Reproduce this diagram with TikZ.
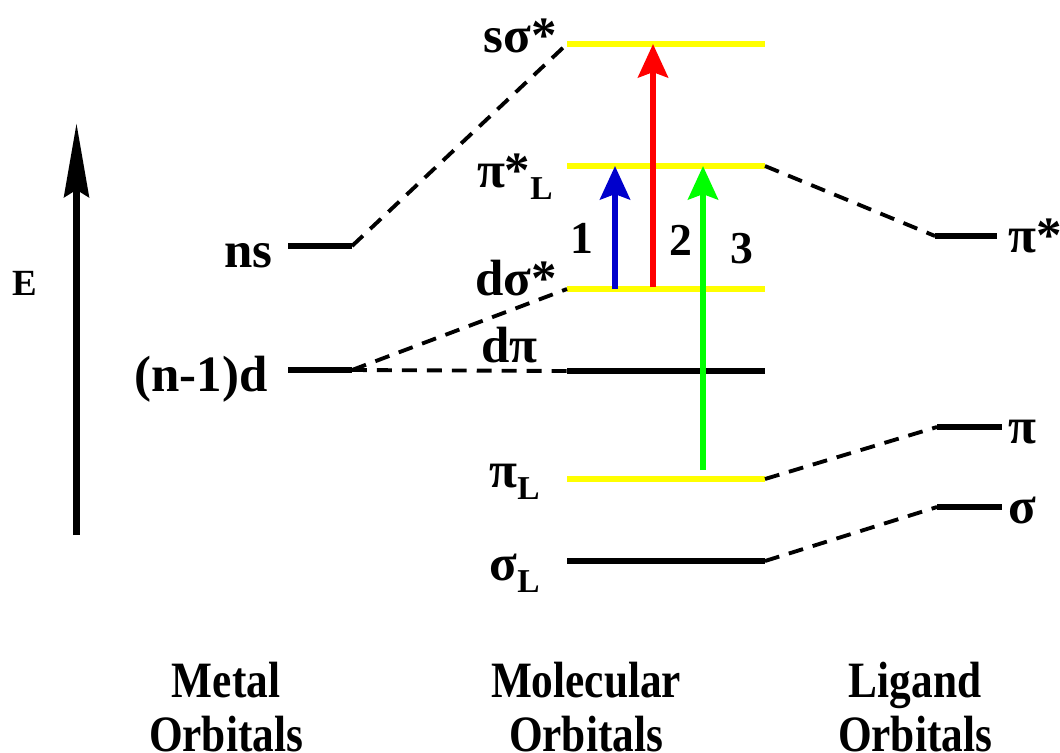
\documentclass[tikz,border=0pt]{standalone}
\usepackage{fontspec}
\setmainfont{Liberation Serif}
\newfontfamily\narrowfont[FakeStretch=0.85]{Liberation Serif}
\usetikzlibrary{arrows.meta}
\definecolor{moyellow}{RGB}{255,255,0}
\definecolor{moblue}{RGB}{0,0,204}
\definecolor{mored}{RGB}{255,0,0}
\definecolor{mogreen}{RGB}{0,255,0}
\newcommand{\lsub}[1]{\raisebox{-7pt}{\fontsize{19}{19}\selectfont #1}}
\tikzset{
  level/.style={line width=3.4pt},
  hilevel/.style={line width=3.4pt, moyellow},
  corr/.style={line width=2.2pt, dash pattern=on 8.5pt off 5.7pt},
  lbl/.style={font=\fontsize{29}{31}\selectfont\bfseries, inner sep=0pt},
  num/.style={font=\fontsize{26}{28}\selectfont\bfseries, inner sep=0pt, anchor=base},
  col/.style={font=\narrowfont\bfseries\fontsize{29}{30.6}\selectfont, align=center, inner sep=0pt, anchor=base},
  trans/.style={line width=3.4pt, -{Stealth[length=19pt, width=17pt, inset=3pt]}},
}
\begin{document}
\begin{tikzpicture}[x=0.02cm, y=-0.02cm]
	\useasboundingbox (0,0) rectangle (1060,752);
	% energy axis
	\coordinate (e-bot) at (76.5,535);
	\coordinate (e-top) at (76.5,123);
	\draw[line width=4pt, -{Stealth[length=42pt, width=14pt, inset=4pt]}] (e-bot) -- (e-top);
	\node[inner sep=0pt, anchor=base, font=\fontsize{21}{22}\selectfont\bfseries] (e) at (25,295) {E};
	% metal orbitals
	\coordinate (ns-a) at (288,246);   \coordinate (ns-b) at (352,246);
	\coordinate (d-a) at (288,370);    \coordinate (d-b) at (352,370);
	% molecular orbitals
	\coordinate (ssig-a) at (567,44);  \coordinate (ssig-b) at (765,44);
	\coordinate (pis-a) at (567,166);  \coordinate (pis-b) at (765,166);
	\coordinate (dsig-a) at (567,289); \coordinate (dsig-b) at (765,289);
	\coordinate (dpi-a) at (567,371);  \coordinate (dpi-b) at (765,371);
	\coordinate (pil-a) at (567,479);  \coordinate (pil-b) at (765,479);
	\coordinate (sigl-a) at (567,561); \coordinate (sigl-b) at (765,561);
	% ligand orbitals
	\coordinate (lpis-a) at (935,236); \coordinate (lpis-b) at (997,236);
	\coordinate (lpi-a) at (937,427);  \coordinate (lpi-b) at (1002,427);
	\coordinate (lsig-a) at (937,507); \coordinate (lsig-b) at (1002,507);
	\draw[level] (ns-a) -- (ns-b);
	\draw[level] (d-a) -- (d-b);
	\draw[hilevel] (ssig-a) -- (ssig-b);
	\draw[hilevel] (pis-a) -- (pis-b);
	\draw[hilevel] (dsig-a) -- (dsig-b);
	\draw[level] (dpi-a) -- (dpi-b);
	\draw[hilevel] (pil-a) -- (pil-b);
	\draw[level] (sigl-a) -- (sigl-b);
	\draw[level] (lpis-a) -- (lpis-b);
	\draw[level] (lpi-a) -- (lpi-b);
	\draw[level] (lsig-a) -- (lsig-b);
	% correlation lines
	\draw[corr] (ns-b) -- (ssig-a);
	\draw[corr] (d-b) -- (dsig-a);
	\draw[corr] (d-b) -- (dpi-a);
	\draw[corr] (pis-b) -- (lpis-a);
	\draw[corr] (pil-b) -- (lpi-a);
	\draw[corr] (sigl-b) -- (lsig-a);
	% transitions
	\coordinate (t1-s) at (615,289); \coordinate (t1-e) at (615,166);
	\coordinate (t2-s) at (653,287); \coordinate (t2-e) at (653,44);
	\coordinate (t3-s) at (703,470); \coordinate (t3-e) at (703,166);
	\draw[trans, moblue] (t1-s) -- (t1-e);
	\draw[trans, mored] (t2-s) -- (t2-e);
	\draw[trans, mogreen] (t3-s) -- (t3-e);
	\node[num] (n1) at (582,253) {1};
	\node[num] (n2) at (681,255) {2};
	\node[num] (n3) at (742,263) {3};
	% level labels
	\node[lbl, anchor=base east] (ns-lbl) at (273,267) {ns};
	\node[lbl, anchor=base east] (d-lbl) at (268,391) {(n-1)d};
	\node[lbl, anchor=base east] (ssig-lbl) at (557,52) {sσ*};
	\node[lbl, anchor=base east] (pis-lbl) at (553,187) {π*\lsub{L}};
	\node[lbl, anchor=base east] (dsig-lbl) at (557,295) {dσ*};
	\node[lbl, anchor=base east] (dpi-lbl) at (538,362) {dπ};
	\node[lbl, anchor=base east] (pil-lbl) at (540,487) {π\lsub{L}};
	\node[lbl, anchor=base east] (sigl-lbl) at (540,580) {σ\lsub{L}};
	\node[lbl, anchor=base west] (lpis-lbl) at (1008,252) {π*};
	\node[lbl, anchor=base west] (lpi-lbl) at (1008,443) {π};
	\node[lbl, anchor=base west] (lsig-lbl) at (1008,523) {σ};
	% column titles
	\node[col] (metal) at (226,751) {Metal\\Orbitals};
	\node[col] (mol) at (586,751) {Molecular\\Orbitals};
	\node[col] (lig) at (915,751) {Ligand\\Orbitals};
\end{tikzpicture}
\end{document}
